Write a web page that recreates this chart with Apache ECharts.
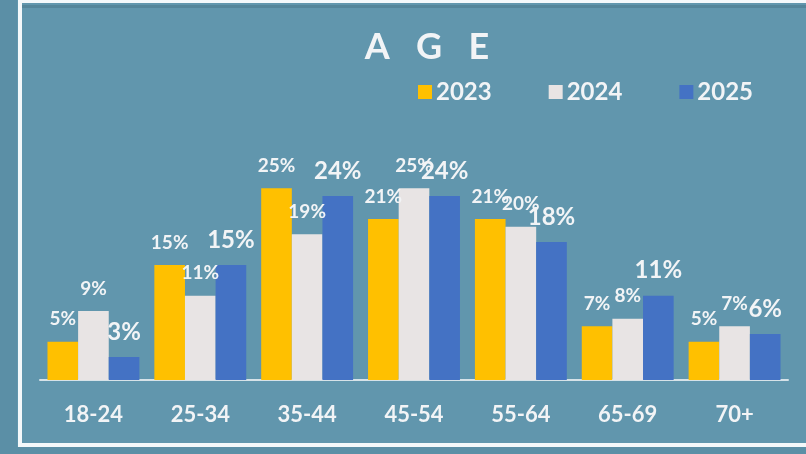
<!DOCTYPE html>
<html>
<head>
<meta charset="utf-8">
<script src="https://cdn.jsdelivr.net/npm/echarts@6/dist/echarts.min.js"></script>
<style>
html,body{margin:0;padding:0;background:#5f93aa;}
#c{width:806px;height:454px;}
</style>
</head>
<body>
<div id="c"></div>
<script>
const categories = ['18-24', '25-34', '35-44', '45-54', '55-64', '65-69', '70+'];
const seriesNames = ['2023', '2024', '2025'];
const values2023 = [5, 15, 25, 21, 21, 7, 5];
const values2024 = [9, 11, 19, 25, 20, 8, 7];
const values2025 = [3, 15, 24, 24, 18, 11, 6];
const titleText = 'A   G   E';

const FONT = 'Lato';
const colors = ['#FFC000', '#E8E4E4', '#4472C4'];
const seriesData = [values2023, values2024, values2025];
const labelSizes = [19, 19, 24];
const labelDist = [13, 13, 13];

const chart = echarts.init(document.getElementById('c'));
chart.setOption({
  backgroundColor: '#6196ad',
  animation: false,
  title: {
    text: titleText,
    left: 422,
    textAlign: 'center',
    top: 24,
    textStyle: { color: '#f2f4f6', fontFamily: FONT, fontWeight: 'bold', fontSize: 36 }
  },
  legend: {
    data: seriesNames,
    left: 413,
    top: 75,
    itemWidth: 14,
    itemHeight: 14,
    itemGap: 57,
    icon: 'rect',
    textStyle: { color: '#f2f4f6', fontFamily: FONT, fontWeight: 'bold', fontSize: 24, padding: [0, 0, 0, -1] }
  },
  grid: { left: 40, right: 18, top: 150, bottom: 74 },
  xAxis: {
    type: 'category',
    data: categories,
    axisLine: { lineStyle: { color: '#d6e2e8', width: 2 } },
    axisTick: { show: false },
    axisLabel: { color: '#f2f4f6', fontFamily: FONT, fontWeight: 'bold', fontSize: 22, margin: 24 }
  },
  yAxis: {
    type: 'value', min: 0, max: 30, show: false,
    splitLine: { show: false }
  },
  graphic: [
    { type: 'rect', shape: { x: 0, y: 0, width: 17, height: 454 }, style: { fill: '#5b8fa6' }, z: -1 },
    { type: 'rect', shape: { x: 0, y: 447, width: 806, height: 7 }, style: { fill: '#5b8fa6' }, z: -1 },
    { type: 'rect', shape: { x: 20, y: 5, width: 800, height: 3 }, style: { fill: '#4f7d92', opacity: 0.7 }, z: -1 },
    { type: 'rect', shape: { x: 20, y: 1, width: 820, height: 444 }, style: { fill: 'none', stroke: '#f4f8fa', lineWidth: 4 }, z: 10 }
  ],
  series: seriesData.map((d, i) => ({
    name: seriesNames[i],
    type: 'bar',
    data: d,
    barGap: '0%',
    barCategoryGap: '14%',
    itemStyle: { color: colors[i] },
    label: {
      show: true,
      position: 'top',
      distance: labelDist[i],
      formatter: '{c}%',
      color: '#f2f4f6',
      fontFamily: FONT,
      fontWeight: 'bold',
      fontSize: labelSizes[i]
    }
  }))
});
</script>
</body>
</html>
